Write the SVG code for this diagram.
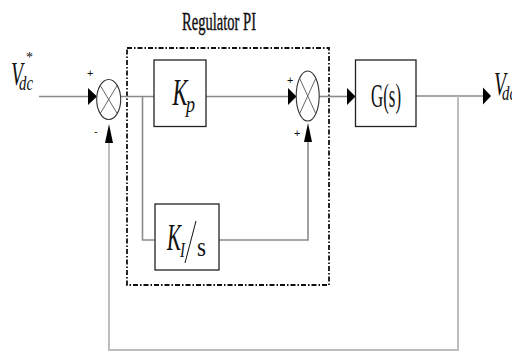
<svg xmlns="http://www.w3.org/2000/svg" width="512" height="352" viewBox="0 0 512 352">
  <style>
    .wire { fill: none; stroke: #8a8a8a; stroke-width: 1.6; }
    .fb { fill: none; stroke: #bdbdbd; stroke-width: 2; }
    .blk { fill: #fff; stroke: #222; stroke-width: 1.3; }
    .sum { fill: #fff; stroke: #333; stroke-width: 1.1; }
    .x { stroke: #555; stroke-width: 0.9; }
    .head { fill: #000; }
    .frame { fill: none; stroke: #111; stroke-width: 1.8; stroke-dasharray: 5 2 1.5 2; }
    .lbl { font-family: "Liberation Serif", "Times New Roman", serif; fill: #111; }
    .it { font-style: italic; }
    .sgn { font-family: "Liberation Sans", Arial, sans-serif; font-size: 11px; fill: #111; }
  </style>

  <!-- PI regulator boundary -->
  <g id="regulator">
    <rect class="frame" x="127" y="48" width="202" height="237"/>
    <text class="lbl" x="182" y="29.5" font-size="25" stroke="#111" stroke-width="0.4" textLength="74" lengthAdjust="spacingAndGlyphs">Regulator PI</text>
  </g>

  <g id="connectors">
    <!-- reference input -->
    <line class="wire" x1="39" y1="96.5" x2="89" y2="96.5"/>
    <polygon class="head" points="88,88 97,96.5 88,105"/>
    <!-- error to Kp -->
    <line class="wire" x1="121" y1="96.5" x2="154" y2="96.5"/>
    <!-- branch to integral path -->
    <polyline class="wire" points="142.5,96.5 142.5,240 155,240"/>
    <!-- Kp to second summer -->
    <line class="wire" x1="206" y1="96.5" x2="289" y2="96.5"/>
    <polygon class="head" points="288,88 296.5,96.5 288,105"/>
    <!-- integral path to second summer -->
    <polyline class="wire" points="219,240 308,240 308,142"/>
    <polygon class="head" points="304,142 308,123 312,142"/>
    <!-- second summer to plant -->
    <line class="wire" x1="319" y1="96.5" x2="348" y2="96.5"/>
    <polygon class="head" points="347,88 355.5,96.5 347,105"/>
    <!-- plant output -->
    <line class="wire" x1="416" y1="96" x2="484" y2="96"/>
    <polygon class="head" points="483,87.5 491,96 483,104.5"/>
    <!-- feedback loop -->
    <polyline class="fb" points="458,96 458,350 109,350 109,143"/>
    <polygon class="head" points="105,143 109,124 113,143"/>
  </g>

  <g id="input-label">
    <text class="lbl it" x="11" y="85" font-size="34" textLength="12" lengthAdjust="spacingAndGlyphs">V</text>
    <text class="lbl it" x="19" y="90" font-size="22" textLength="14" lengthAdjust="spacingAndGlyphs">dc</text>
    <text class="lbl" x="26" y="62" font-size="14">*</text>
  </g>

  <g id="sum1">
    <ellipse class="sum" cx="108.7" cy="99.5" rx="12" ry="20"/>
    <line class="x" x1="100.2" y1="85.4" x2="117.2" y2="113.6"/>
    <line class="x" x1="117.2" y1="85.4" x2="100.2" y2="113.6"/>
    <text class="sgn" x="87" y="77">+</text>
    <text class="sgn" x="94" y="135">-</text>
  </g>

  <g id="kp">
    <rect class="blk" x="154" y="60" width="52" height="66.5"/>
    <text class="lbl it" x="172.5" y="105" font-size="38" textLength="15" lengthAdjust="spacingAndGlyphs">K</text>
    <text class="lbl it" x="186" y="112" font-size="24" textLength="9" lengthAdjust="spacingAndGlyphs">p</text>
  </g>

  <g id="ki">
    <rect class="blk" x="155" y="204" width="64" height="66"/>
    <text class="lbl it" x="167" y="250" font-size="38" textLength="14" lengthAdjust="spacingAndGlyphs">K</text>
    <text class="lbl it" x="180" y="257" font-size="20" textLength="5" lengthAdjust="spacingAndGlyphs">I</text>
    <line x1="196" y1="221" x2="185" y2="263" stroke="#111" stroke-width="1"/>
    <text class="lbl" x="197" y="256" font-size="28" textLength="9" lengthAdjust="spacingAndGlyphs">s</text>
  </g>

  <g id="sum2">
    <ellipse class="sum" cx="307.7" cy="96" rx="11.5" ry="25"/>
    <line class="x" x1="299.6" y1="78.3" x2="315.8" y2="113.7"/>
    <line class="x" x1="315.8" y1="78.3" x2="299.6" y2="113.7"/>
    <text class="sgn" x="287" y="84">+</text>
    <text class="sgn" x="294" y="137">+</text>
  </g>

  <g id="plant">
    <rect class="blk" x="355.5" y="60" width="60.5" height="66.5"/>
    <text class="lbl" x="386" y="107" font-size="34" text-anchor="middle" textLength="30" lengthAdjust="spacingAndGlyphs">G(s)</text>
  </g>

  <g id="output-label">
    <text class="lbl it" x="494" y="95" font-size="34" textLength="12" lengthAdjust="spacingAndGlyphs">V</text>
    <text class="lbl it" x="502" y="100" font-size="22" textLength="14" lengthAdjust="spacingAndGlyphs">dc</text>
  </g>
</svg>
